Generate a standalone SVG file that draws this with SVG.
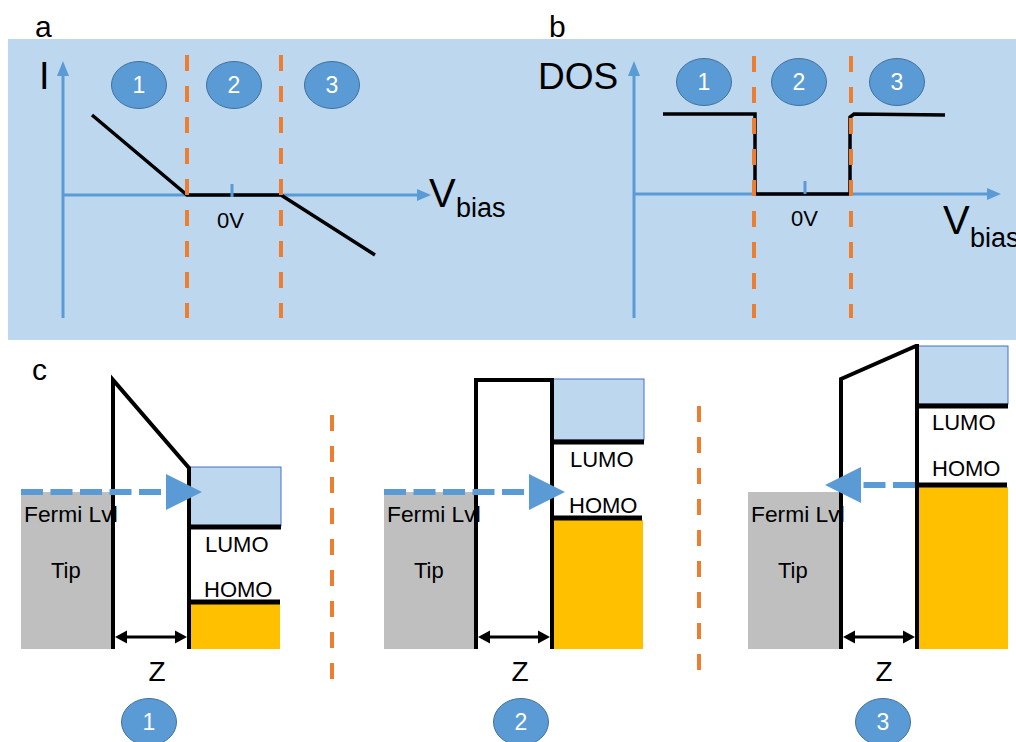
<svg xmlns="http://www.w3.org/2000/svg" width="1016" height="742" viewBox="0 0 1016 742">
<defs>
<style>
text{font-family:"Liberation Sans",Arial,sans-serif;fill:#000}
.axis{stroke:#5B9BD5;stroke-width:3;fill:none}
.axhead{fill:#5B9BD5}
.curve{stroke:#000;stroke-width:3.5;fill:none;stroke-linejoin:miter}
.odash{stroke:#ED7D31;stroke-width:4;stroke-dasharray:16 15;fill:none}
.badge{fill:#5B9BD5;stroke:#41719C;stroke-width:1}
.num{fill:#fff;font-size:23px;text-anchor:middle}
.tip{fill:#BFBFBF}
.bar{stroke:#000;stroke-width:4;fill:none;stroke-linejoin:miter}
.lumo{fill:#BDD7EE;stroke:#4472C4;stroke-width:1}
.lvl{stroke:#000;stroke-width:5}
.occ{fill:#FFC000}
.bdash{stroke:#5B9BD5;stroke-width:6;stroke-dasharray:22 7.5;fill:none}
.bhead{fill:#5B9BD5}
.zline{stroke:#000;stroke-width:3}
.lbl{font-size:22px}
.fermi{font-size:22.8px}
</style>
</defs>
<rect x="8" y="39" width="1008" height="301" fill="#BDD7EE"/>
<text x="35" y="37" font-size="30">a</text>
<text x="549" y="37" font-size="30">b</text>
<text x="32" y="380" font-size="30">c</text>

<g id="panel-a">
<line class="axis" x1="63" y1="318" x2="63" y2="72"/>
<polygon class="axhead" points="63,61 57,76 69,76"/>
<line class="axis" x1="63" y1="195" x2="420" y2="195"/>
<polygon class="axhead" points="431,195 417,189 417,201"/>
<polyline class="curve" points="92,115 187,195 281,195 375,255"/>
<line class="axis" x1="232" y1="184" x2="232" y2="197"/>
<line class="odash" x1="187" y1="55" x2="187" y2="318"/>
<line class="odash" x1="281" y1="55" x2="281" y2="318"/>
<text x="39" y="89" font-size="38">I</text>
<text x="429" y="207" font-size="40">V</text>
<text x="456" y="217" font-size="27">bias</text>
<text x="217" y="228" class="lbl">0V</text>
<g id="a-badge1"><ellipse class="badge" cx="139" cy="85" rx="27.5" ry="23.5"/><text class="num" x="139" y="93">1</text></g>
<g id="a-badge2"><ellipse class="badge" cx="234" cy="85" rx="27.5" ry="23.5"/><text class="num" x="234" y="93">2</text></g>
<g id="a-badge3"><ellipse class="badge" cx="332" cy="85" rx="27.5" ry="23.5"/><text class="num" x="332" y="93">3</text></g>
</g>

<g id="panel-b">
<line class="axis" x1="634" y1="318" x2="634" y2="72"/>
<polygon class="axhead" points="634,61 628,76 640,76"/>
<line class="axis" x1="634" y1="194" x2="990" y2="194"/>
<polygon class="axhead" points="1001,194 987,188 987,200"/>
<polyline class="curve" points="663,114 755,114 755,194 850,194 850,117 854,114 945,115"/>
<line class="axis" x1="805" y1="181" x2="805" y2="194"/>
<line class="odash" x1="754" y1="56" x2="754" y2="318"/>
<line class="odash" x1="851" y1="56" x2="851" y2="318"/>
<text x="538" y="89" font-size="37">DOS</text>
<text x="943" y="234" font-size="40">V</text>
<text x="970" y="247" font-size="27">bias</text>
<text x="791" y="226" class="lbl">0V</text>
<g id="b-badge1"><ellipse class="badge" cx="704" cy="82" rx="27.5" ry="23.5"/><text class="num" x="704" y="90">1</text></g>
<g id="b-badge2"><ellipse class="badge" cx="799" cy="82" rx="27.5" ry="23.5"/><text class="num" x="799" y="90">2</text></g>
<g id="b-badge3"><ellipse class="badge" cx="897" cy="82" rx="27.5" ry="23.5"/><text class="num" x="897" y="90">3</text></g>
</g>

<g id="scenario-1">
<rect class="tip" x="21" y="492" width="92" height="157"/>
<rect class="lumo" x="190" y="467" width="91" height="59"/>
<rect class="occ" x="190" y="604" width="90" height="45"/>
<line class="lvl" x1="190" y1="527" x2="281" y2="527"/>
<line class="lvl" x1="190" y1="602" x2="280" y2="602"/>
<polyline class="bar" points="113,649 113,380 189,468 189,649"/>
<text x="24" y="522" class="fermi">Fermi Lvl</text>
<text x="51" y="578" class="lbl">Tip</text>
<text x="205" y="552" class="lbl">LUMO</text>
<text x="204" y="597" class="lbl">HOMO</text>
<text x="157" y="681" font-size="28" text-anchor="middle">Z</text>
<g id="c-badge1"><ellipse class="badge" cx="149" cy="722" rx="27.5" ry="23.5"/><text class="num" x="149" y="730">1</text></g>
</g>

<g id="scenario-2">
<rect class="tip" x="384" y="492" width="92" height="157"/>
<rect class="lumo" x="553" y="379" width="91" height="61"/>
<rect class="occ" x="553" y="520" width="90" height="129"/>
<line class="lvl" x1="553" y1="442" x2="644" y2="442"/>
<line class="lvl" x1="553" y1="518" x2="642" y2="518"/>
<polyline class="bar" points="476,649 476,380 552,380 552,649"/>
<text x="387" y="522" class="fermi">Fermi Lvl</text>
<text x="414" y="578" class="lbl">Tip</text>
<text x="570" y="467" class="lbl">LUMO</text>
<text x="569" y="513" class="lbl">HOMO</text>
<text x="520" y="681" font-size="28" text-anchor="middle">Z</text>
<g id="c-badge2"><ellipse class="badge" cx="521" cy="722" rx="27.5" ry="23.5"/><text class="num" x="521" y="730">2</text></g>
</g>

<g id="scenario-3">
<rect class="tip" x="748" y="492" width="92" height="157"/>
<rect class="lumo" x="918" y="346" width="90" height="58"/>
<rect class="occ" x="918" y="487" width="90" height="162"/>
<line class="lvl" x1="918" y1="406" x2="1008" y2="406"/>
<line class="lvl" x1="918" y1="485" x2="1007" y2="485"/>
<polyline class="bar" points="841,649 841,379 916,346 917,346 917,649"/>
<text x="751" y="522" class="fermi">Fermi Lvl</text>
<text x="778" y="578" class="lbl">Tip</text>
<text x="932" y="430" class="lbl">LUMO</text>
<text x="932" y="476" class="lbl">HOMO</text>
<text x="884" y="681" font-size="28" text-anchor="middle">Z</text>
<g id="c-badge3"><ellipse class="badge" cx="883" cy="722" rx="27.5" ry="23.5"/><text class="num" x="883" y="730">3</text></g>
</g>

<g id="connectors">
<line class="odash" x1="332" y1="415" x2="332" y2="679"/>
<line class="odash" x1="699" y1="406" x2="699" y2="670"/>
<line class="bdash" x1="21" y1="492" x2="168" y2="492"/>
<polygon class="bhead" points="202,492 166,474 166,510"/>
<line class="bdash" x1="384" y1="492" x2="531" y2="492"/>
<polygon class="bhead" points="565,492 529,474 529,510"/>
<line class="bdash" x1="915" y1="485" x2="860" y2="485"/>
<polygon class="bhead" points="825,485 861,467 861,503"/>
<line class="zline" x1="122" y1="637" x2="181" y2="637"/>
<polygon points="115,637 127,630.5 127,643.5"/>
<polygon points="187,637 175,630.5 175,643.5"/>
<line class="zline" x1="485" y1="637" x2="544" y2="637"/>
<polygon points="478,637 490,630.5 490,643.5"/>
<polygon points="550,637 538,630.5 538,643.5"/>
<line class="zline" x1="850" y1="637" x2="909" y2="637"/>
<polygon points="843,637 855,630.5 855,643.5"/>
<polygon points="915,637 903,630.5 903,643.5"/>
</g>
</svg>
